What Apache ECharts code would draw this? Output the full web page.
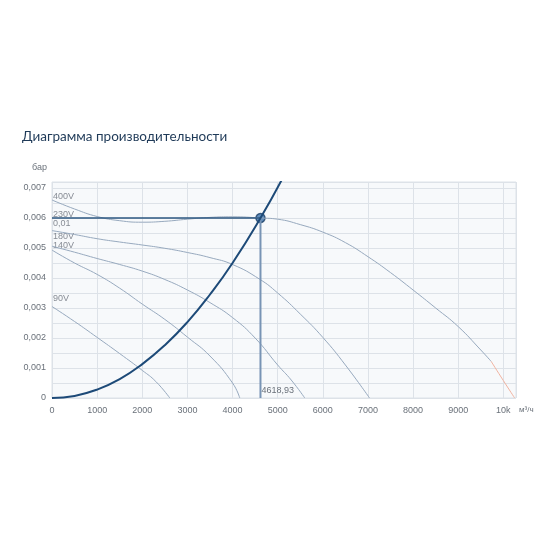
<!DOCTYPE html>
<html>
<head>
<meta charset="utf-8">
<script src="https://cdn.jsdelivr.net/npm/echarts@6/dist/echarts.min.js"></script>
<style>
	html, body { margin: 0; padding: 0; background: #fff; }
	#chart { width: 550px; height: 550px; }
</style>
</head>
<body>
<div id="chart"></div>
<script>
// кривые вентилятора (м³/ч, бар)
var fan400 = [[0, 0.0066], [500, 0.0063], [1000, 0.00605], [1500, 0.00591], [2000, 0.00586], [2500, 0.00589], [3000, 0.00596], [3500, 0.00602], [4000, 0.00604], [4618.93, 0.006], [5000, 0.00596], [5500, 0.00578], [6000, 0.00553], [6500, 0.00518], [7000, 0.00471], [7500, 0.00418], [8000, 0.0036], [8500, 0.003], [9000, 0.00238], [9500, 0.0016], [9730, 0.00122]]
var fan400Tail = [[9730, 0.00122], [10000, 0.00058], [10250, 0]]
var fan230 = [[0, 0.00558], [500, 0.00545], [1000, 0.00531], [1500, 0.0052], [2000, 0.0051], [2500, 0.00499], [3000, 0.00485], [3500, 0.00468], [4000, 0.00445], [4600, 0.00396], [5000, 0.0035], [5500, 0.0028], [6000, 0.00202], [6500, 0.0011], [7035, 0]]
var fan180 = [[0, 0.00506], [500, 0.00486], [1000, 0.00465], [1500, 0.00445], [2000, 0.00423], [2500, 0.00395], [3000, 0.0036], [3500, 0.00318], [4000, 0.00268], [4500, 0.002], [5000, 0.0011], [5300, 0.0006], [5600, 0]]
var fan140 = [[0, 0.00493], [500, 0.0045], [1000, 0.00412], [1500, 0.00366], [2000, 0.00313], [2500, 0.00262], [3000, 0.00203], [3500, 0.0014], [4000, 0.0005], [4160, 0]]
var fan90 = [[0, 0.00305], [500, 0.00255], [1000, 0.00202], [1500, 0.00148], [2000, 0.00092], [2300, 0.00055], [2610, 0]]
// характеристика сети
var systemCurve = [[0, 0], [500, 0.00007], [1000, 0.00028], [1500, 0.00063], [2000, 0.00113], [2500, 0.00176], [3000, 0.00253], [3500, 0.00345], [4000, 0.0045], [4618.93, 0.006], [5100, 0.0073]]
// рабочая точка
var workFlow = 4618.93
var workPressure = 0.006
// подписи кривых
var curveNames = ['400V', '230V', '0,01', '180V', '140V', '90V']
var curveLabelY = [0.00673, 0.00613, 0.0058, 0.00537, 0.00507, 0.0033]

var myChart = echarts.init(document.getElementById('chart'))

function fanSeries(data, color) {
	return {
		type: 'line',
		data: data,
		smooth: 0.5,
		showSymbol: false,
		silent: true,
		lineStyle: { color: color || '#97a9be', width: 1 }
	}
}

var option = {
	animation: false,
	title: {
		text: 'Диаграмма производительности',
		left: 22,
		top: 130,
		padding: 0,
		textStyle: {
			color: '#1f3a58',
			fontSize: 13.5,
			fontWeight: 'normal',
			fontFamily: 'Lato'
		}
	},
	grid: {
		left: 52,
		right: 34,
		top: 182,
		bottom: 152,
		show: true,
		backgroundColor: '#f7f9fb',
		borderColor: '#dde2e8',
		borderWidth: 1
	},
	xAxis: {
		type: 'value',
		min: 0,
		max: 10280,
		interval: 1000,
		name: 'м³/ч',
		nameLocation: 'end',
		nameGap: 3,
		nameTextStyle: {
			color: '#6a717a',
			fontSize: 8,
			verticalAlign: 'top',
			padding: [8, 0, 0, 0]
		},
		axisLine: { show: false },
		axisTick: { show: false },
		axisLabel: {
			color: '#6a717a',
			fontSize: 9,
			margin: 8,
			showMaxLabel: false,
			formatter: function (v) {
				return v >= 10000 ? (v / 1000) + 'k' : String(v)
			}
		},
		splitLine: { lineStyle: { color: '#dde2e8' } }
	},
	yAxis: {
		type: 'value',
		min: 0,
		max: 0.0072,
		interval: 0.0005,
		name: 'бар',
		nameLocation: 'end',
		nameGap: 10,
		nameTextStyle: {
			color: '#6a717a',
			fontSize: 9,
			align: 'right',
			padding: [0, 5, 0, 0]
		},
		axisLine: { show: false },
		axisTick: { show: false },
		axisLabel: {
			color: '#6a717a',
			fontSize: 9,
			margin: 6,
			showMaxLabel: false,
			formatter: function (v) {
				var k = Math.round(v * 10000)
				if (k % 10 !== 0) return ''
				if (k === 0) return '0'
				return v.toFixed(3).replace('.', ',')
			}
		},
		splitLine: { lineStyle: { color: '#dde2e8' } }
	},
	series: [
		fanSeries(fan400),
		fanSeries(fan400Tail, '#f0b3a0'),
		fanSeries(fan230),
		fanSeries(fan180),
		fanSeries(fan140),
		fanSeries(fan90),
		// горизонталь рабочей точки
		{
			type: 'line',
			data: [[0, workPressure], [workFlow, workPressure]],
			showSymbol: false,
			silent: true,
			lineStyle: { color: '#2b5680', width: 1.6 }
		},
		// вертикаль рабочей точки
		{
			type: 'line',
			data: [[workFlow, workPressure], [workFlow, 0]],
			symbol: 'none',
			silent: true,
			lineStyle: { color: '#7894b5', width: 2 },
			markPoint: {
				symbolSize: 0,
				data: [{
					coord: [workFlow, 0],
					label: {
						show: true,
						position: 'right',
						distance: 1,
						offset: [0, -7],
						color: '#6a717a',
						fontSize: 9,
						formatter: String(workFlow).replace('.', ',')
					}
				}]
			}
		},
		// характеристика сети
		{
			type: 'line',
			data: systemCurve,
			smooth: 0.5,
			showSymbol: false,
			silent: true,
			lineStyle: { color: '#1d4a78', width: 2 }
		},
		// рабочая точка
		{
			type: 'scatter',
			data: [[workFlow, workPressure]],
			symbolSize: 9,
			silent: true,
			itemStyle: { color: '#3a72ad', borderColor: '#1a3e66', borderWidth: 1.5 }
		},
		// подписи
		{
			type: 'scatter',
			data: curveLabelY.map(function (y, i) { return { name: curveNames[i], value: [0, y] } }),
			symbolSize: 0,
			silent: true,
			label: {
				show: true,
				position: 'right',
				distance: 1,
				color: '#6a717a',
				fontSize: 9,
				formatter: '{b}'
			}
		}
	]
}

myChart.setOption(option)
window.addEventListener('resize', function () {
	myChart.resize()
})
</script>
</body>
</html>
